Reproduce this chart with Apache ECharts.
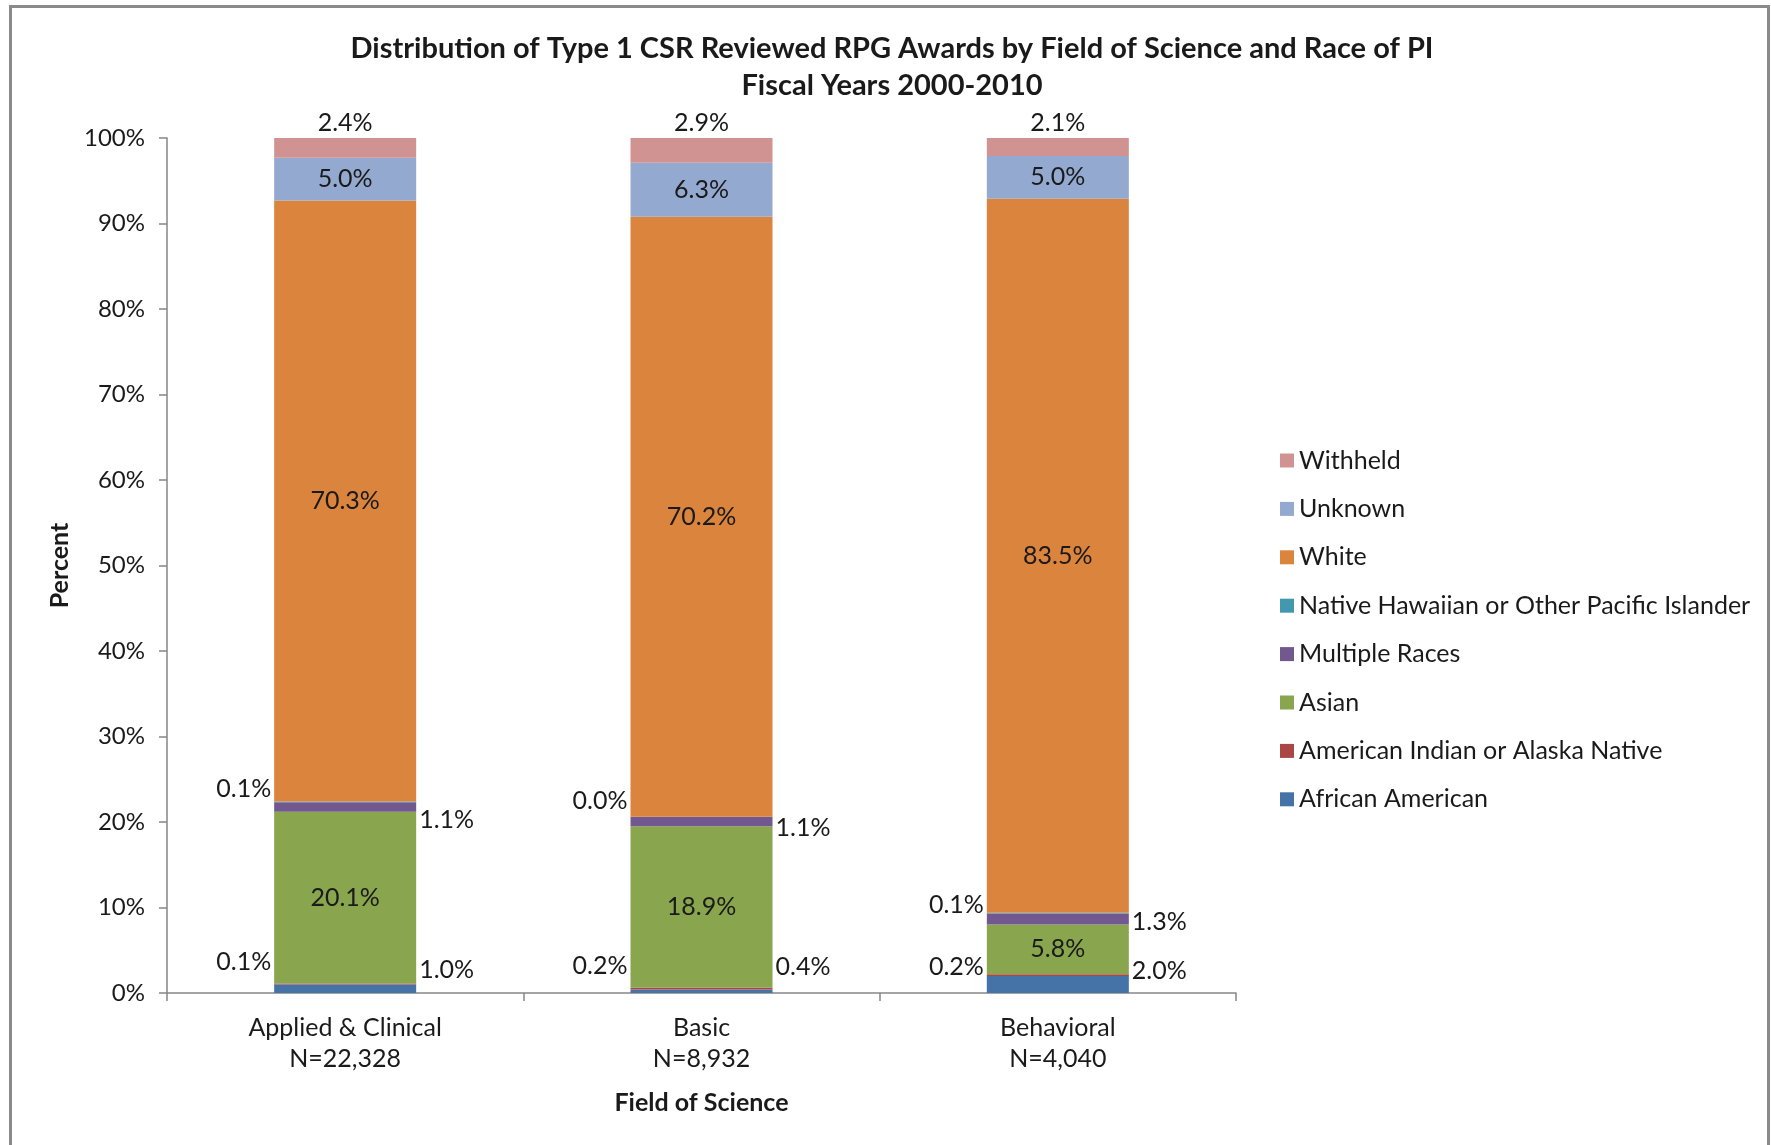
<!DOCTYPE html>
<html>
<head>
<meta charset="utf-8">
<script src="https://cdn.jsdelivr.net/npm/echarts@6/dist/echarts.min.js"></script>
<style>
    html, body { margin: 0; padding: 0; background: #fff; }
    #chart { width: 1771px; height: 1145px; }
</style>
</head>
<body>
<div id="chart"></div>
<script>
    // categories (x axis)
    var fields = ['Applied & Clinical\nN=22,328', 'Basic\nN=8,932', 'Behavioral\nN=4,040']
    var yTicks = [0, 10, 20, 30, 40, 50, 60, 70, 80, 90, 100]

    // series values, percent, stacked bottom to top
    var africanAmerican = [1.0, 0.4, 2.0]
    var americanIndian = [0.1, 0.2, 0.2]
    var asian = [20.1, 18.9, 5.8]
    var multipleRaces = [1.1, 1.1, 1.3]
    var nativeHawaiian = [0.1, 0.0, 0.1]
    var white = [70.3, 70.2, 83.5]
    var unknown = [5.0, 6.3, 5.0]
    var withheld = [2.4, 2.9, 2.1]

    var font = 'Lato, "Open Sans", sans-serif'
    var labelFmt = function (p) { return p.value.toFixed(1) + '%' }

    // vertical nudges for the small outside labels (one per bar)
    var nudgeAA = [-19, -24, -14]
    var nudgeAI = [-22, -23, -8]
    var nudgeMulti = [13, 6, 3]
    var nudgeNH = [-13, -16, -8]

    function lbl (position) {
        return {
            show: true,
            position: position,
            distance: 3,
            formatter: labelFmt,
            fontFamily: font,
            fontSize: 25,
            color: '#1a1a1a'
        }
    }

    function withNudge (values, nudge) {
        return values.map(function (v, i) {
            return {value: v, label: {offset: [0, nudge[i]]}}
        })
    }

    var seriesDefs = [
        {name: 'African American', data: withNudge(africanAmerican, nudgeAA), color: '#4572A7', label: lbl('right')},
        {name: 'American Indian or Alaska Native', data: withNudge(americanIndian, nudgeAI), color: '#AA4643', label: lbl('left')},
        {name: 'Asian', data: asian, color: '#89A54E', label: lbl('inside')},
        {name: 'Multiple Races', data: withNudge(multipleRaces, nudgeMulti), color: '#71588F', label: lbl('right')},
        {name: 'Native Hawaiian or Other Pacific Islander', data: withNudge(nativeHawaiian, nudgeNH), color: '#4198AF', label: lbl('left')},
        {name: 'White', data: white, color: '#DB843D', label: lbl('inside')},
        {name: 'Unknown', data: unknown, color: '#93A9CF', label: lbl('inside')},
        {name: 'Withheld', data: withheld, color: '#D19392', label: lbl('top')}
    ]

    var chart = echarts.init(document.getElementById('chart'))
    chart.setOption({
        backgroundColor: '#fff',
        animation: false,
        title: {
            text: 'Distribution of Type 1 CSR Reviewed RPG Awards by Field of Science and Race of PI\nFiscal Years 2000-2010',
            left: 887,
            textAlign: 'center',
            top: 25,
            textStyle: {
                fontFamily: font,
                fontSize: 29,
                fontWeight: 'bold',
                color: '#1a1a1a',
                lineHeight: 37
            }
        },
        graphic: [{
            type: 'rect',
            shape: {x: 10.5, y: 6.5, width: 1758, height: 1200},
            style: {fill: 'none', stroke: '#8a8a8a', lineWidth: 3},
            silent: true
        }],
        legend: {
            orient: 'vertical',
            left: 1275,
            top: 443,
            itemWidth: 14,
            itemHeight: 14,
            itemGap: 23.4,
            icon: 'rect',
            data: seriesDefs.map(function (s) { return s.name }).reverse(),
            textStyle: {
                fontFamily: font,
                fontSize: 25,
                color: '#1a1a1a'
            }
        },
        grid: {
            left: 167,
            right: 535,
            top: 138,
            bottom: 152
        },
        xAxis: {
            type: 'category',
            data: fields,
            name: 'Field of Science',
            nameLocation: 'middle',
            nameGap: 97,
            nameTextStyle: {fontFamily: font, fontSize: 25, fontWeight: 'bold', color: '#1a1a1a'},
            axisLine: {lineStyle: {color: '#868686', width: 1.5}},
            axisTick: {show: true, length: 8, lineStyle: {color: '#868686', width: 1.5}},
            axisLabel: {
                fontFamily: font,
                fontSize: 25,
                color: '#1a1a1a',
                lineHeight: 31,
                margin: 19
            }
        },
        yAxis: {
            type: 'value',
            min: yTicks[0],
            max: yTicks[yTicks.length - 1],
            interval: 10,
            name: 'Percent',
            nameLocation: 'middle',
            nameGap: 95,
            nameTextStyle: {fontFamily: font, fontSize: 25, fontWeight: 'bold', color: '#1a1a1a'},
            splitLine: {show: false},
            axisLine: {show: true, lineStyle: {color: '#868686', width: 1.5}},
            axisTick: {show: true, length: 8, lineStyle: {color: '#868686', width: 1.5}},
            axisLabel: {
                formatter: '{value}%',
                fontFamily: font,
                fontSize: 24,
                color: '#1a1a1a',
                margin: 22
            }
        },
        series: seriesDefs.map(function (s) {
            return {
                name: s.name,
                type: 'bar',
                stack: 'total',
                barWidth: 142,
                data: s.data,
                itemStyle: {color: s.color},
                label: s.label
            }
        })
    })
</script>
</body>
</html>
